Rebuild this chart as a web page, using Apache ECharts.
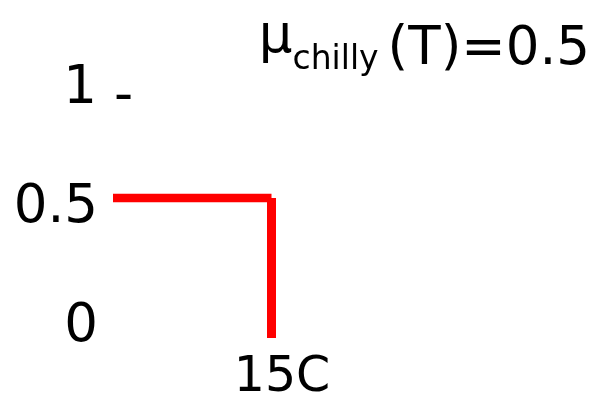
<!DOCTYPE html>
<html>
<head>
<meta charset="utf-8">
<style>
html,body{margin:0;padding:0;background:#fff;}
#chart{width:594px;height:403px;}
</style>
<script src="https://cdn.jsdelivr.net/npm/echarts@6/dist/echarts.min.js"></script>
</head>
<body>
<div id="chart"></div>
<script>
// Data
const titleParts = { mu: 'μ', sub: 'chilly', main: '(T)=0.5' };
const yTickValues = [0, 0.5, 1];
const yTickLabels = ['0', '0.5', '1'];
const xTickLabel = '15C';
const xBreak = 15;          // temperature where membership drops
const xStart = 0;           // left end of the plotted segment
const level = 0.5;          // membership value
const horizSeg = [[xStart, level], [xBreak, level]];
const vertSeg = [[xBreak, level], [xBreak, 0]];

const FONT = 'DejaVu Sans';
const chart = echarts.init(document.getElementById('chart'), null, { renderer: 'canvas' });

chart.setOption({
  animation: false,
  backgroundColor: '#ffffff',
  title: {
    text: '{mu|' + titleParts.mu + '}{sub|' + titleParts.sub + '}{main|' + titleParts.main + '}',
    right: 4,
    top: 17,
    padding: 0,
    textStyle: {
      fontWeight: 'normal',
      rich: {
        mu: { fontFamily: FONT, fontSize: 53, fontWeight: 'normal', color: '#000', verticalAlign: 'bottom', lineHeight: 60, padding: [0, 0, 12, 0] },
        sub: { fontFamily: FONT, fontSize: 33, fontWeight: 'normal', color: '#000', verticalAlign: 'bottom', lineHeight: 60, padding: [0, 9, 0, 0] },
        main: { fontFamily: FONT, fontSize: 53, fontWeight: 'normal', color: '#000', verticalAlign: 'bottom', lineHeight: 60 }
      }
    }
  },
  grid: [
    { left: 113, right: 5.5, top: 58, bottom: 61, containLabel: false },
    { left: 140, width: 10, top: 89, height: 238, containLabel: false }
  ],
  xAxis: [
    {
      gridIndex: 0, type: 'value', min: 0, max: 45, interval: 15,
      axisLine: { show: false }, axisTick: { show: false }, splitLine: { show: false },
      axisLabel: {
        show: true, margin: 16,
        fontFamily: FONT, fontSize: 49, color: '#000',
        formatter: function (v) { return v === xBreak ? xTickLabel : ''; },
        padding: [0, 0, 0, 21]
      }
    },
    {
      gridIndex: 1, type: 'value', show: false
    }
  ],
  yAxis: [
    {
      gridIndex: 0, type: 'value', min: 0, max: 1,
      show: false
    },
    {
      gridIndex: 1, type: 'value', min: 0, max: 1, interval: 0.5,
      axisLine: { show: false }, axisTick: { show: false }, splitLine: { show: false },
      axisLabel: {
        show: true, margin: 7, align: 'right',
        formatter: function (v) {
          const i = yTickValues.indexOf(v);
          const t = i >= 0 ? yTickLabels[i] : '';
          return v === 1 ? '{d|' + t + ' }{h|-}' : '{n|' + t + '}';
        },
        rich: {
          d: { fontFamily: FONT, fontSize: 53, color: '#000', lineHeight: 71 },
          h: { fontFamily: FONT, fontSize: 53, color: '#000', lineHeight: 53, verticalAlign: 'bottom' },
          n: { fontFamily: FONT, fontSize: 53, color: '#000', padding: [0, 35, 0, 0] }
        }
      }
    }
  ],
  series: [
    {
      type: 'line', xAxisIndex: 0, yAxisIndex: 0,
      data: horizSeg, showSymbol: false, symbol: 'none',
      lineStyle: { color: '#ff0000', width: 8.5, cap: 'butt' }
    },
    {
      type: 'line', xAxisIndex: 0, yAxisIndex: 0,
      data: vertSeg, showSymbol: false, symbol: 'none',
      lineStyle: { color: '#ff0000', width: 9, cap: 'butt' }
    }
  ]
});
</script>
</body>
</html>
